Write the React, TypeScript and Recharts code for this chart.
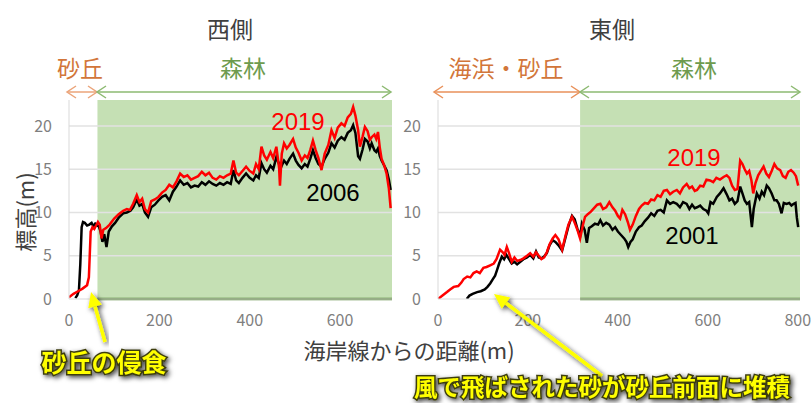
import { LineChart, Line, XAxis, YAxis, ReferenceArea, ReferenceLine } from "recharts"

// 西側 (west)
const westDist2019 = [0, 10, 20, 30, 40, 44, 48, 52, 56, 60, 64, 68, 72, 76, 82, 90, 100, 110, 120, 128, 135, 142, 150, 156, 162, 168, 175, 182, 190, 198, 206, 214, 222, 230, 238, 246, 254, 262, 270, 278, 286, 294, 302, 310, 318, 326, 334, 342, 350, 358, 364, 370, 376, 384, 392, 400, 408, 414, 420, 426, 432, 438, 446, 452, 459, 465, 467, 471, 476, 482, 488, 496, 502, 508, 515, 522, 528, 534, 540, 546, 552, 559, 566, 574, 581, 588, 595, 603, 610, 617, 624, 629, 634, 640, 644, 650, 655, 661, 666, 670, 676, 680, 684, 688, 692, 698, 703, 708, 712]
const west2019 = [0.2, 0.6, 0.9, 1.2, 1.6, 2.5, 7.8, 8.3, 8.1, 8.5, 8.9, 8.6, 7.0, 8.0, 8.2, 8.6, 9.3, 9.8, 10.2, 10.4, 10.3, 11.0, 12.0, 11.2, 11.6, 10.4, 10.0, 11.3, 11.5, 11.8, 12.3, 12.6, 13.2, 12.9, 13.6, 14.5, 14.1, 14.3, 13.8, 14.0, 14.2, 14.7, 14.3, 14.6, 14.0, 13.8, 14.2, 14.0, 14.3, 14.5, 16.0, 14.6, 14.3, 14.8, 15.3, 14.8, 14.5, 15.6, 15.0, 17.6, 16.6, 16.1, 17.0, 16.3, 17.6, 15.2, 13.1, 16.8, 18.0, 17.4, 17.8, 18.5, 17.5, 16.9, 16.0, 16.6, 16.3, 17.2, 18.3, 17.2, 16.3, 14.9, 16.8, 17.8, 19.5, 18.6, 19.8, 20.3, 20.0, 21.0, 21.4, 22.2, 21.2, 19.5, 17.6, 18.8, 19.9, 19.4, 18.4, 18.7, 19.0, 18.5, 19.3, 17.5, 16.2, 15.4, 14.5, 12.8, 10.5]
const westDist2006 = [14, 18, 22, 25, 28, 31, 35, 40, 45, 50, 54, 58, 62, 66, 70, 74, 78, 83, 88, 95, 102, 110, 120, 128, 136, 142, 150, 156, 162, 168, 175, 182, 190, 198, 206, 214, 222, 230, 238, 246, 254, 262, 270, 278, 286, 294, 302, 310, 318, 326, 334, 342, 350, 358, 364, 370, 376, 384, 392, 400, 408, 414, 420, 426, 432, 438, 446, 452, 459, 465, 470, 476, 482, 488, 496, 502, 508, 515, 522, 528, 534, 540, 546, 552, 559, 566, 574, 581, 588, 595, 603, 610, 617, 624, 629, 634, 640, 644, 650, 655, 661, 666, 670, 676, 680, 684, 688, 692, 698, 703, 708, 712]
const west2006 = [0.1, 0.4, 1.0, 4.0, 8.3, 8.9, 8.8, 8.5, 8.6, 8.8, 8.4, 8.7, 8.5, 8.4, 7.8, 6.6, 7.5, 6.0, 7.8, 8.4, 8.8, 9.4, 9.9, 10.0, 10.2, 10.6, 11.5, 10.8, 11.0, 10.0, 9.5, 10.6, 10.9, 11.4, 11.8, 12.0, 11.4, 12.4, 13.0, 13.7, 13.2, 13.4, 12.9, 13.1, 13.0, 13.5, 13.2, 13.6, 13.3, 13.1, 13.4, 13.2, 13.5, 13.3, 14.9, 13.7, 13.4, 14.0, 14.5, 14.0, 13.7, 14.3, 14.0, 15.7, 15.0, 14.6, 15.4, 15.0, 16.4, 15.6, 15.3, 16.0, 15.6, 16.2, 16.8, 16.0, 15.5, 15.1, 15.6, 15.3, 16.2, 17.2, 16.3, 15.6, 15.3, 16.2, 16.9, 18.0, 17.5, 18.3, 18.7, 18.4, 19.2, 19.5, 20.1, 19.2, 16.5, 16.2, 17.3, 18.5, 18.2, 17.4, 18.0, 17.2, 17.0, 17.4, 16.5, 16.0, 15.4, 14.9, 13.8, 12.6]

// 東側 (east)
const eastDist2019 = [0, 10, 20, 27, 35, 45, 52, 57, 65, 72, 79, 86, 93, 101, 108, 116, 124, 130, 138, 144, 148, 153, 158, 164, 170, 176, 183, 190, 198, 205, 212, 218, 224, 230, 236, 242, 248, 255, 261, 268, 276, 283, 290, 298, 304, 310, 316, 322, 327, 333, 340, 347, 354, 361, 367, 374, 381, 388, 394, 400, 405, 410, 416, 422, 427, 433, 440, 447, 453, 460, 467, 474, 481, 488, 495, 502, 509, 516, 523, 531, 538, 545, 553, 559, 565, 571, 576, 583, 590, 597, 605, 612, 619, 627, 635, 642, 648, 654, 660, 666, 672, 677, 682, 687, 692, 697, 701, 706, 712, 718, 724, 730, 736, 742, 748, 754, 761, 767, 773, 779, 785, 791, 796, 801]
const east2019 = [0.0, 0.4, 0.8, 1.1, 1.4, 1.5, 1.9, 2.3, 2.6, 2.5, 3.0, 3.2, 3.0, 3.6, 3.7, 3.9, 4.1, 4.6, 5.7, 5.4, 5.1, 6.0, 5.3, 4.3, 4.8, 4.4, 4.5, 4.7, 5.0, 5.3, 4.9, 5.4, 5.0, 4.6, 4.8, 5.4, 6.3, 7.0, 7.4, 6.9, 5.7, 7.2, 8.6, 9.5, 8.8, 8.0, 7.0, 8.5, 9.5, 9.8, 10.1, 10.5, 10.9, 11.0, 10.4, 10.6, 11.2, 10.6, 10.2, 9.6, 9.3, 10.3, 9.8, 8.9, 8.0, 8.6, 9.6, 10.4, 10.8, 11.1, 11.0, 11.5, 11.4, 12.0, 11.8, 12.5, 12.6, 12.1, 12.4, 12.6, 12.2, 12.9, 13.3, 12.8, 13.0, 12.5, 12.6, 13.1, 13.0, 13.8, 13.7, 13.5, 14.0, 13.8, 14.1, 14.3, 14.0, 13.1, 12.6, 12.7, 16.0, 15.6, 15.0, 14.5, 14.8, 13.7, 12.2, 13.4, 14.3, 14.8, 15.3, 14.5, 14.1, 14.8, 15.6, 15.1, 14.9, 14.2, 14.0, 14.7, 14.9, 14.6, 14.2, 13.1]
const eastDist2001 = [64, 70, 77, 87, 95, 104, 110, 116, 122, 127, 131, 136, 142, 147, 152, 158, 164, 170, 176, 183, 190, 198, 205, 212, 218, 224, 230, 236, 242, 248, 255, 261, 268, 276, 283, 290, 298, 304, 310, 316, 320, 326, 331, 336, 342, 349, 356, 361, 367, 374, 381, 388, 394, 400, 407, 414, 419, 423, 428, 433, 440, 447, 453, 460, 467, 474, 481, 488, 495, 502, 509, 516, 523, 531, 538, 545, 553, 559, 565, 571, 576, 583, 590, 597, 601, 606, 612, 620, 627, 635, 642, 648, 654, 660, 666, 672, 677, 682, 687, 692, 698, 702, 709, 715, 720, 725, 731, 736, 742, 748, 753, 758, 764, 769, 775, 781, 786, 791, 795, 798, 801]
const east2001 = [0.0, 0.4, 0.6, 0.8, 0.9, 1.1, 1.4, 1.8, 2.3, 2.7, 3.3, 4.1, 4.9, 4.6, 5.1, 4.6, 4.1, 4.3, 4.0, 4.3, 4.6, 4.8, 5.1, 4.7, 5.5, 4.8, 4.7, 4.9, 5.3, 6.2, 6.8, 6.6, 6.2, 5.6, 7.0, 8.4, 9.6, 9.2, 8.1, 7.3, 8.7, 8.0, 6.5, 8.2, 8.4, 8.7, 8.6, 9.1, 8.5, 8.8, 8.6, 8.0, 8.3, 7.8, 7.4, 7.0, 6.6, 6.0, 6.6, 6.9, 7.8, 8.3, 8.5, 9.0, 9.4, 9.9, 9.6, 10.2, 10.3, 10.0, 11.4, 11.0, 11.2, 11.0, 10.6, 11.2, 11.0, 10.4, 10.9, 10.5, 10.6, 10.8, 10.4, 10.2, 9.9, 11.2, 11.0, 11.8, 12.2, 12.8, 12.1, 11.4, 11.6, 11.0, 11.3, 13.0, 12.2, 11.4, 11.0, 11.2, 8.3, 10.4, 12.2, 11.6, 12.4, 12.0, 13.1, 12.8, 12.2, 11.4, 11.4, 11.0, 9.9, 11.1, 11.0, 11.1, 10.8, 11.0, 11.1, 9.4, 8.3]

const yTicks = [0, 5, 10, 15, 20]
const westTicks = [0, 200, 400, 600]
const eastTicks = [0, 200, 400, 600, 800]
const westForestStart = 63
const eastForestStart = 316

const toRows = (xs: number[], ys: number[]) => xs.map((d, i) => ({ d, h: ys[i] }))

const tickStyle = { fill: "#7f7f7f", fontSize: 16, fontFamily: "Noto Sans CJK JP" }
const JP = "Noto Sans CJK JP"

interface ProfileProps {
  width: number
  yAxisWidth: number
  rightMargin: number
  xMax: number
  xTicks: number[]
  forestStart: number
  oldRows: { d: number; h: number }[]
  newRows: { d: number; h: number }[]
}

function Profile({ width, yAxisWidth, rightMargin, xMax, xTicks, forestStart, oldRows, newRows }: ProfileProps) {
  return (
    <LineChart width={width} height={340} margin={{ top: 100, right: rightMargin, bottom: 11, left: 0 }}>
      <XAxis
        type="number"
        dataKey="d"
        domain={[0, xMax]}
        ticks={xTicks}
        allowDataOverflow
        height={30}
        tickLine={false}
        tickSize={0}
        tickMargin={16}
        axisLine={{ stroke: "#d9d9d9" }}
        tick={tickStyle}
      />
      <YAxis
        type="number"
        domain={[0, 23]}
        ticks={yTicks}
        allowDataOverflow
        width={yAxisWidth}
        tickLine={false}
        tickSize={0}
        tickMargin={17}
        axisLine={{ stroke: "#d9d9d9" }}
        tick={tickStyle}
      />
      <ReferenceArea x1={forestStart} x2={xMax} y1={0} y2={23} fill="#c5e0b4" fillOpacity={1} stroke="none" />
      {yTicks.slice(1).map((t) => (
        <ReferenceLine key={t} y={t} stroke="#e2e2e2" strokeWidth={1.5} />
      ))}
      <ReferenceLine
        segment={[
          { x: forestStart, y: 0 },
          { x: xMax, y: 0 },
        ]}
        stroke="#548235"
        strokeWidth={2.5}
      />
      <Line data={oldRows} dataKey="h" type="linear" stroke="#000000" strokeWidth={2.5} dot={false} isAnimationActive={false} />
      <Line data={newRows} dataKey="h" type="linear" stroke="#ff0000" strokeWidth={2.5} dot={false} isAnimationActive={false} />
    </LineChart>
  )
}

function rangeArrow(x1: number, x2: number, y: number, color: string) {
  return (
    <g stroke={color} strokeWidth={1.5} fill="none">
      <line x1={x1} y1={y} x2={x2} y2={y} />
      <polyline points={`${x1 + 9},${y - 6} ${x1},${y} ${x1 + 9},${y + 6}`} />
      <polyline points={`${x2 - 9},${y - 6} ${x2},${y} ${x2 - 9},${y + 6}`} />
    </g>
  )
}

function yellowArrow(fx: number, fy: number, tx: number, ty: number) {
  const len = Math.hypot(tx - fx, ty - fy)
  const ux = (tx - fx) / len
  const uy = (ty - fy) / len
  const bx = tx - ux * 15
  const by = ty - uy * 15
  const px = -uy * 7
  const py = ux * 7
  return (
    <g filter="url(#shadow)">
      <line x1={fx} y1={fy} x2={bx} y2={by} stroke="#ffff00" strokeWidth={3.5} />
      <polygon points={`${tx},${ty} ${bx + px},${by + py} ${bx - px},${by - py}`} fill="#ffff00" />
    </g>
  )
}

export default function App() {
  const orange = "#d2763a"
  const green = "#6e9b4e"
  return (
    <div style={{ position: "absolute", left: 0, top: 0, width: 811, height: 403, background: "#fff", overflow: "hidden" }}>
      <div style={{ position: "absolute", left: 0, top: 0 }}>
        <Profile
          width={400}
          yAxisWidth={69}
          rightMargin={8}
          xMax={715}
          xTicks={westTicks}
          forestStart={westForestStart}
          oldRows={toRows(westDist2006, west2006)}
          newRows={toRows(westDist2019, west2019)}
        />
      </div>
      <div style={{ position: "absolute", left: 400, top: 0 }}>
        <Profile
          width={411}
          yAxisWidth={38}
          rightMargin={11}
          xMax={805}
          xTicks={eastTicks}
          forestStart={eastForestStart}
          oldRows={toRows(eastDist2001, east2001)}
          newRows={toRows(eastDist2019, east2019)}
        />
      </div>
      <svg width={811} height={403} style={{ position: "absolute", left: 0, top: 0, pointerEvents: "none" }}>
        <defs>
          <filter id="shadow" x="-20%" y="-20%" width="140%" height="140%">
            <feDropShadow dx={2} dy={2} stdDeviation={2.5} floodColor="#000" floodOpacity={0.75} />
          </filter>
        </defs>
        <g fontFamily={JP} textAnchor="middle" dominantBaseline="central">
          <text x={230} y={28} fontSize={23} fill="#404040">西側</text>
          <text x={612} y={28} fontSize={23} fill="#404040">東側</text>
          <text x={80} y={67} fontSize={23} fill={orange}>砂丘</text>
          <text x={243} y={67} fontSize={23} fill={green}>森林</text>
          <text x={506} y={67} fontSize={23} fill={orange}>海浜・砂丘</text>
          <text x={694} y={67} fontSize={23} fill={green}>森林</text>
          <text x={409} y={349} fontSize={22} fill="#404040">海岸線からの距離(m)</text>
          <text x={24} y={212} fontSize={22} fill="#404040" transform="rotate(-90 24 212)">標高(m)</text>
        </g>
        {rangeArrow(67, 97, 92, "#eba47a")}
        {rangeArrow(97, 391, 92, "#8dba72")}
        {rangeArrow(434, 580, 92, "#e9915a")}
        {rangeArrow(580, 800, 92, "#8dba72")}
        <g fontFamily="Liberation Sans" fontSize={24} textAnchor="middle" dominantBaseline="central">
          <text x={298} y={121} fill="#ff0000">2019</text>
          <text x={333} y={192} fill="#000">2006</text>
          <text x={694} y={157} fill="#ff0000">2019</text>
          <text x={692} y={235} fill="#000">2001</text>
        </g>
        {yellowArrow(105, 342, 91, 292)}
        {yellowArrow(602, 376, 494, 294)}
        <g fontFamily={JP} fontWeight="bold" fill="#ffff00" stroke="#3d3d10" strokeWidth={3} paintOrder="stroke" filter="url(#shadow)" dominantBaseline="central">
          <text x={104} y={361} fontSize={25} textAnchor="middle">砂丘の侵食</text>
          <text x={414} y={386} fontSize={23.5} textAnchor="start">風で飛ばされた砂が砂丘前面に堆積</text>
        </g>
      </svg>
    </div>
  )
}
